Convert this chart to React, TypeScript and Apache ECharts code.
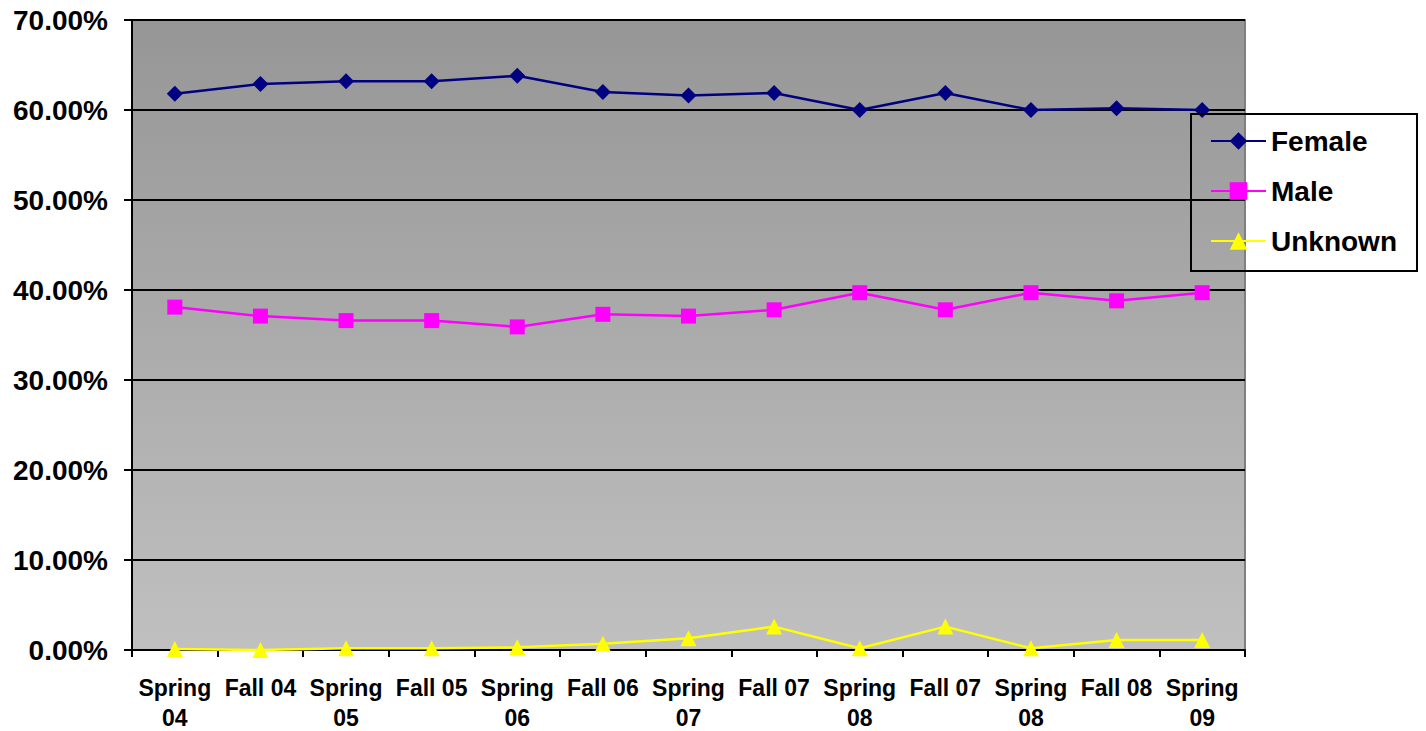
import React, { useEffect, useRef } from "react";
import * as echarts from "echarts";

const categories = [
  "Spring\n04", "Fall 04", "Spring\n05", "Fall 05", "Spring\n06", "Fall 06",
  "Spring\n07", "Fall 07", "Spring\n08", "Fall 07", "Spring\n08", "Fall 08", "Spring\n09",
];
const female = [61.8, 62.9, 63.2, 63.2, 63.8, 62.0, 61.6, 61.9, 60.0, 61.9, 60.0, 60.2, 60.0];
const male = [38.1, 37.1, 36.6, 36.6, 35.9, 37.3, 37.1, 37.8, 39.7, 37.8, 39.7, 38.8, 39.7];
const unknown = [0.1, 0.0, 0.2, 0.2, 0.3, 0.7, 1.3, 2.6, 0.2, 2.6, 0.2, 1.1, 1.1];

const FONT = "'Liberation Sans', Arial, sans-serif";

export default function App() {
  const ref = useRef<HTMLDivElement>(null);
  useEffect(() => {
    document.body.style.margin = "0";
    const chart = echarts.init(ref.current!, null, { renderer: "svg" });
    chart.setOption({
      animation: false,
      grid: {
        left: 132,
        top: 20,
        right: 181,
        bottom: 81,
        outerBoundsMode: "none",
        containLabel: false,
        show: true,
        borderColor: "#808080",
        borderWidth: 2,
        backgroundColor: new echarts.graphic.LinearGradient(0, 0, 0, 1, [
          { offset: 0, color: "#969696" },
          { offset: 1, color: "#c0c0c0" },
        ]),
      },
      legend: {
        orient: "vertical",
        left: 1191,
        top: 114,
        padding: [13, 20, 16, 19],
        backgroundColor: "transparent",
        borderColor: "#000",
        borderWidth: 2,
        itemWidth: 55,
        itemHeight: 22,
        itemGap: 22,
        textStyle: { fontFamily: FONT, fontWeight: "bold", fontSize: 28, color: "#000" },
        data: ["Female", "Male", "Unknown"],
      },
      xAxis: {
        type: "category",
        data: categories,
        boundaryGap: true,
        axisLine: { lineStyle: { color: "#000", width: 2 } },
        axisTick: { show: true, length: 7, lineStyle: { color: "#000", width: 2 } },
        axisLabel: {
          interval: 0,
          margin: 23,
          fontFamily: FONT,
          fontWeight: "bold",
          fontSize: 23,
          lineHeight: 30,
          color: "#000",
        },
      },
      yAxis: {
        type: "value",
        min: 0,
        max: 70,
        interval: 10,
        axisLine: { show: true, lineStyle: { color: "#000", width: 2 } },
        axisTick: { show: true, length: 8, lineStyle: { color: "#000", width: 2 } },
        splitLine: { lineStyle: { color: "#000", width: 2 } },
        axisLabel: {
          margin: 24,
          fontFamily: FONT,
          fontWeight: "bold",
          fontSize: 28,
          color: "#000",
          formatter: (v: number) => v.toFixed(2) + "%",
        },
      },
      series: [
        {
          name: "Female",
          type: "line",
          data: female,
          symbol: "diamond",
          symbolSize: 16,
          itemStyle: { color: "#000080" },
          lineStyle: { color: "#000080", width: 2.5 },
        },
        {
          name: "Male",
          type: "line",
          data: male,
          symbol: "rect",
          symbolSize: 15,
          itemStyle: { color: "#ff00ff" },
          lineStyle: { color: "#ff00ff", width: 2.5 },
        },
        {
          name: "Unknown",
          type: "line",
          data: unknown,
          symbol: "triangle",
          symbolSize: 16,
          itemStyle: { color: "#ffff00" },
          lineStyle: { color: "#ffff00", width: 2.5 },
        },
      ],
    });
    return () => chart.dispose();
  }, []);
  return <div ref={ref} style={{ width: 1426, height: 731 }} />;
}
